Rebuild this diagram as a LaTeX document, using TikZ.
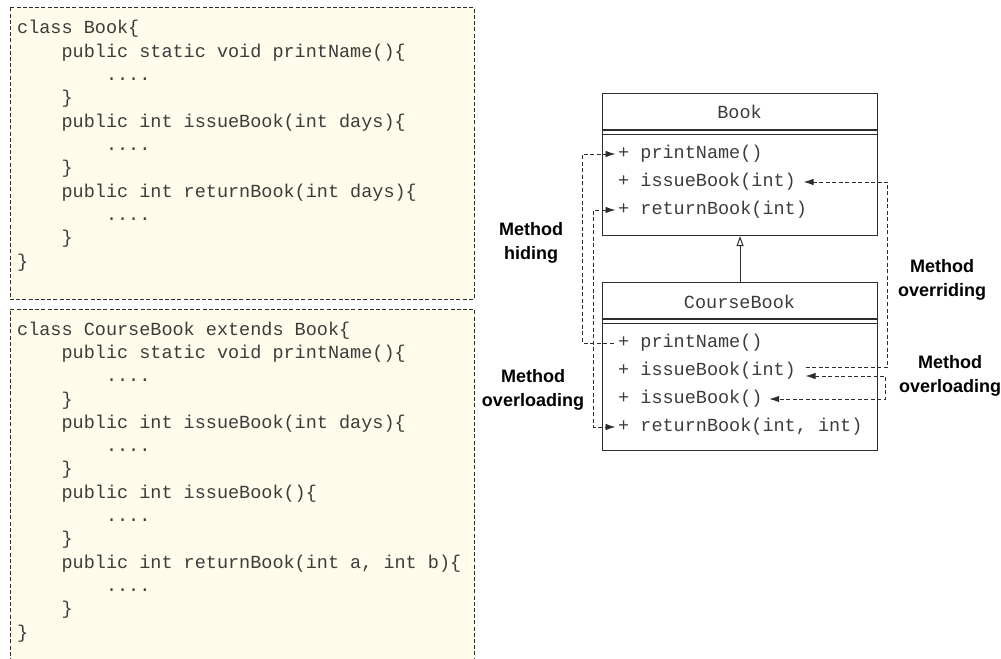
\documentclass[tikz,border=0pt]{standalone}
\usepackage{fontspec}
\setmainfont{Liberation Sans}
\setmonofont{Liberation Mono}
\usetikzlibrary{arrows.meta}
\definecolor{codebg}{RGB}{255,252,235}
\definecolor{ink}{RGB}{45,45,45}
\definecolor{codeink}{RGB}{60,60,60}
\newcommand{\ind}{\hspace*{2.4em}}
\begin{document}
\begin{tikzpicture}[x=1bp,y=-1bp,
  boxline/.style={draw=ink, line width=0.9bp, dash pattern=on 4bp off 2.2bp},
  code/.style={font=\ttfamily\fontsize{18.5bp}{23.3bp}\selectfont, align=left, inner sep=0pt, text=codeink, anchor=base west},
  umlbox/.style={draw=ink, line width=1.1bp, anchor=north west, inner sep=0pt},
  umltext/.style={font=\ttfamily\fontsize{18.5bp}{22bp}\selectfont, text=codeink, inner sep=0pt},
  row/.style={font=\ttfamily\fontsize{18.5bp}{22bp}\selectfont, text=codeink, anchor=west, inner xsep=2.5bp, inner ysep=0pt},
  conn/.style={draw=ink, line width=0.9bp, dash pattern=on 4bp off 2.5bp},
  tip/.tip={Latex[length=10bp,width=6.5bp]},
  lab/.style={font=\bfseries\fontsize{18bp}{24bp}\selectfont, align=center, text=black, inner sep=0pt}]
\useasboundingbox (0,0) rectangle (1001,659);
% code boxes
\fill[codebg] (10,7.5) rectangle (474,299);
\draw[boxline] (10,7.5) rectangle (474,299);
\fill[codebg] (10,309) rectangle (474,659);
\draw[boxline] (10,662) -- (10,309) -- (474,309) -- (474,662);
% the base anchor of a multi-line node is the baseline of its last line
\node[code] (code1) at (17,267) {class Book\{\\
\ind public static void printName()\{\\
\ind\ind ....\\
\ind \}\\
\ind public int issueBook(int days)\{\\
\ind\ind ....\\
\ind \}\\
\ind public int returnBook(int days)\{\\
\ind\ind ....\\
\ind \}\\
\}};
\node[code] (code2) at (17,638) {class CourseBook extends Book\{\\
\ind public static void printName()\{\\
\ind\ind ....\\
\ind \}\\
\ind public int issueBook(int days)\{\\
\ind\ind ....\\
\ind \}\\
\ind public int issueBook()\{\\
\ind\ind ....\\
\ind \}\\
\ind public int returnBook(int a, int b)\{\\
\ind\ind ....\\
\ind \}\\
\}};
% UML boxes
\node[umlbox, minimum width=275bp, minimum height=142bp] (book) at (602,93) {};
\draw[ink, line width=1.1bp] (602,130) -- (877,130) (602,134.5) -- (877,134.5);
\node[umltext] (bookname) at (739.5,112) {Book};
\node[row] (b1) at (615.5,154) {+ printName()};
\node[row] (b2) at (615.5,182) {+ issueBook(int)};
\node[row] (b3) at (615.5,210) {+ returnBook(int)};
\node[umlbox, minimum width=275bp, minimum height=168bp] (course) at (602,282) {};
\draw[ink, line width=1.1bp] (602,319) -- (877,319) (602,323.5) -- (877,323.5);
\node[umltext] (coursename) at (739.5,302) {CourseBook};
\node[row] (c1) at (615.5,343) {+ printName()};
\node[row] (c2) at (615.5,371) {+ issueBook(int)};
\node[row] (c3) at (615.5,399) {+ issueBook()};
\node[row] (c4) at (615.5,427) {+ returnBook(int, int)};
% inheritance
\draw[ink, line width=1bp, -{Triangle[open,length=10bp,width=7bp]}] (course.north) -- (book.south);
% connectors
\draw[conn, -tip] ([xshift=-2bp]c1.west) -- ++(-31,0) |- (b1.west);
\draw[conn, tip-tip] (b3.west) -- ++(-22,0) |- (c4.west);
\coordinate (ovs) at ([xshift=7bp,yshift=4bp]c2.east);
\coordinate (ove) at ([xshift=5bp]b2.east);
\draw[conn, -tip] (ovs) -- ++(82,0) |- (ove);
\coordinate (ol1) at ([xshift=7bp,yshift=-5bp]c2.east);
\coordinate (ol2) at ([xshift=4bp]c3.east);
\draw[conn, tip-tip] (ol1) -- ++(80,0) |- (ol2);
% labels
\node[lab] (lhide) at (531,243) {Method\\hiding};
\node[lab] (lover1) at (533,390) {Method\\overloading};
\node[lab] (lride) at (942,280) {Method\\overriding};
\node[lab] (lover2) at (950,375.5) {Method\\overloading};
\end{tikzpicture}
\end{document}
